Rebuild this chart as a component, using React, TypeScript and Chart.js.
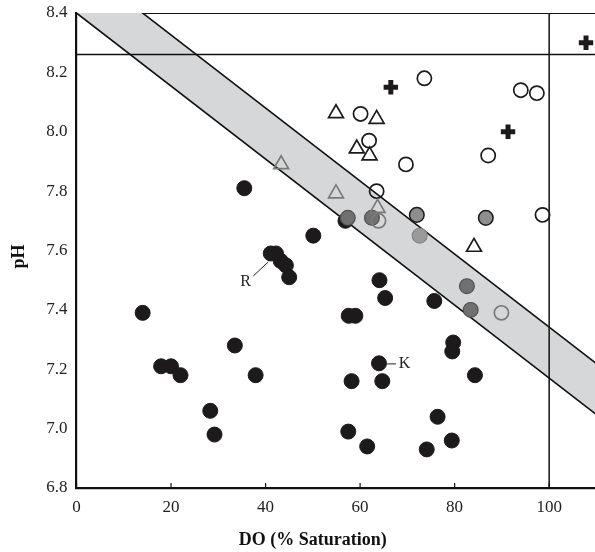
import React, { useEffect, useRef } from 'react';
import { Chart, registerables } from 'chart.js';
Chart.register(...registerables);

const FONT = '"Liberation Serif", "Times New Roman", serif';

const xTicks = [0, 20, 40, 60, 80, 100];
const yTicks = [6.8, 7.0, 7.2, 7.4, 7.6, 7.8, 8.0, 8.2, 8.4];

const blackFilled = [
  { x: 14.0, y: 7.39 }, { x: 17.9, y: 7.21 }, { x: 20.0, y: 7.21 }, { x: 22.0, y: 7.18 },
  { x: 28.3, y: 7.06 }, { x: 29.2, y: 6.98 }, { x: 33.5, y: 7.28 }, { x: 37.9, y: 7.18 },
  { x: 35.5, y: 7.81 }, { x: 41.1, y: 7.59 }, { x: 42.2, y: 7.59 }, { x: 43.2, y: 7.565 },
  { x: 44.3, y: 7.55 }, { x: 45.0, y: 7.51 }, { x: 50.1, y: 7.65 }, { x: 56.9, y: 7.70 },
  { x: 57.6, y: 7.38 }, { x: 59.0, y: 7.38 }, { x: 64.1, y: 7.50 }, { x: 65.3, y: 7.44 },
  { x: 75.7, y: 7.43 }, { x: 64.0, y: 7.22 }, { x: 58.2, y: 7.16 }, { x: 64.7, y: 7.16 },
  { x: 57.5, y: 6.99 }, { x: 61.5, y: 6.94 }, { x: 74.1, y: 6.93 }, { x: 76.4, y: 7.04 },
  { x: 79.4, y: 6.96 }, { x: 79.7, y: 7.29 }, { x: 79.5, y: 7.26 }, { x: 84.3, y: 7.18 },
];
const greyBlackBorder = [{ x: 72.0, y: 7.72 }, { x: 86.6, y: 7.71 }];
const greyDark = [{ x: 57.4, y: 7.71 }, { x: 62.5, y: 7.71 }, { x: 82.6, y: 7.48 }, { x: 83.4, y: 7.40 }];
const greyLight = [{ x: 72.6, y: 7.65 }];
const openBlack = [
  { x: 73.6, y: 8.18 }, { x: 94.0, y: 8.14 }, { x: 97.4, y: 8.13 }, { x: 60.1, y: 8.06 },
  { x: 61.9, y: 7.97 }, { x: 69.7, y: 7.89 }, { x: 87.1, y: 7.92 }, { x: 98.6, y: 7.72 },
  { x: 63.5, y: 7.80 },
];
const openGrey = [{ x: 63.9, y: 7.70 }, { x: 89.9, y: 7.39 }];
const triBlack = [
  { x: 54.9, y: 8.062 }, { x: 63.5, y: 8.043 }, { x: 59.3, y: 7.943 }, { x: 62.0, y: 7.92 },
  { x: 84.1, y: 7.612 },
];
const triGrey = [{ x: 54.9, y: 7.792 }, { x: 63.7, y: 7.743 }, { x: 43.3, y: 7.89 }];
const crosses = [{ x: 66.5, y: 8.15 }, { x: 91.3, y: 8.0 }, { x: 107.8, y: 8.30 }];

const bandLower = [{ x: 0, y: 8.4 }, { x: 110, y: 7.047 }];
const bandUpper = [{ x: 0, y: 8.572 }, { x: 110, y: 7.219 }];
const topLine = [{ x: 14, y: 8.4 }, { x: 110, y: 8.4 }];
const hLine = [{ x: 0, y: 8.26 }, { x: 110, y: 8.26 }];
const vLine = [{ x: 100, y: 6.8 }, { x: 100, y: 8.4 }];

const labelR = { text: 'R', tx: 35.8, ty: 7.495, from: { x: 37.4, y: 7.514 }, to: { x: 40.6, y: 7.562 } };
const labelK = { text: 'K', tx: 69.4, ty: 7.217, from: { x: 65.7, y: 7.218 }, to: { x: 67.6, y: 7.218 } };

const overlay = {
  id: 'overlay',
  afterDraw(chart: any) {
    const ctx = chart.ctx;
    const xs = chart.scales.x;
    const ys = chart.scales.y;
    const area = chart.chartArea;
    ctx.save();
    ctx.strokeStyle = '#111';
    ctx.lineWidth = 1.2;
    xTicks.forEach((t) => {
      const px = xs.getPixelForValue(t);
      ctx.beginPath();
      ctx.moveTo(px, area.bottom);
      ctx.lineTo(px, area.bottom - 5);
      ctx.stroke();
    });
    ctx.fillStyle = '#222';
    ctx.strokeStyle = '#222';
    ctx.lineWidth = 1;
    ctx.font = `16px ${FONT}`;
    ctx.textAlign = 'center';
    ctx.textBaseline = 'middle';
    [labelR, labelK].forEach((l) => {
      ctx.beginPath();
      ctx.moveTo(xs.getPixelForValue(l.from.x), ys.getPixelForValue(l.from.y));
      ctx.lineTo(xs.getPixelForValue(l.to.x), ys.getPixelForValue(l.to.y));
      ctx.stroke();
      ctx.fillText(l.text, xs.getPixelForValue(l.tx), ys.getPixelForValue(l.ty));
    });
    ctx.fillStyle = '#111';
    ctx.font = `bold 18px ${FONT}`;
    ctx.fillText('DO (% Saturation)', xs.getPixelForValue(50), 540);
    ctx.translate(19, (area.top + area.bottom) / 2 + 6);
    ctx.rotate(-Math.PI / 2);
    ctx.fillText('pH', 0, 0);
    ctx.restore();
  },
};

const circle = (data: any[], bg: string, border: string, bw: number, r: number, order: number) => ({
  data, backgroundColor: bg, borderColor: border, borderWidth: bw, pointRadius: r,
  pointHoverRadius: r, pointStyle: 'circle', order, showLine: false,
});

export default function App() {
  const ref = useRef<HTMLCanvasElement>(null);
  useEffect(() => {
    if (!ref.current) return;
    const lineDs = (data: any[], order: number, width: number, extra: any = {}) => ({
      data, showLine: true, pointRadius: 0, pointHoverRadius: 0, borderColor: '#111',
      borderWidth: width, backgroundColor: 'transparent', fill: false, order, ...extra,
    });
    const chart = new Chart(ref.current, {
      type: 'scatter',
      data: {
        datasets: [
          lineDs(bandLower, 20, 1.6),
          lineDs(bandUpper, 20, 1.6, { fill: '-1', backgroundColor: '#d6d7d9' }),
          lineDs(topLine, 19, 2),
          lineDs(hLine, 19, 1.5),
          lineDs(vLine, 19, 1.5),
          circle(blackFilled, '#1c1a1b', '#1c1a1b', 1, 7.5, 6),
          circle(greyDark, '#707070', '#505050', 1.2, 7.4, 5),
          circle(greyLight, '#9a9a9a', '#858585', 1.2, 7.4, 5),
          circle(greyBlackBorder, '#8e8e8e', '#1c1a1b', 1.5, 7.3, 5),
          circle(openBlack, 'transparent', '#1c1a1b', 1.7, 7.1, 4),
          circle(openGrey, 'transparent', '#7a7a7a', 1.7, 7.1, 4),
          {
            data: triBlack, pointStyle: 'triangle', pointRadius: 8.6, pointHoverRadius: 8.6,
            backgroundColor: 'transparent', borderColor: '#1c1a1b', borderWidth: 1.7, order: 3, showLine: false,
          },
          {
            data: triGrey, pointStyle: 'triangle', pointRadius: 8.6, pointHoverRadius: 8.6,
            backgroundColor: 'transparent', borderColor: '#7a7a7a', borderWidth: 1.7, order: 3, showLine: false,
          },
          {
            data: crosses, pointStyle: 'cross', pointRadius: 7.2, pointHoverRadius: 7.2,
            backgroundColor: '#1c1a1b', borderColor: '#1c1a1b', borderWidth: 5, order: 2, showLine: false,
          },
        ] as any,
      },
      options: {
        animation: false,
        responsive: true,
        maintainAspectRatio: false,
        layout: { autoPadding: false, padding: { top: 13, right: 0, left: 0, bottom: 0 } },
        plugins: { legend: { display: false }, tooltip: { enabled: false }, title: { display: false } },
        scales: {
          x: {
            type: 'linear', min: 0, max: 109.7,
            afterBuildTicks: (s: any) => { s.ticks = xTicks.map((v) => ({ value: v })); },
            afterFit: (s: any) => { s.height = 64; s.paddingLeft = 0; s.paddingRight = 0; },
            grid: { display: false, drawTicks: false },
            border: { display: true, color: '#111', width: 2.2 },
            ticks: { font: { family: FONT, size: 17 }, color: '#222', padding: 9, maxRotation: 0 },
          },
          y: {
            type: 'linear', min: 6.8, max: 8.4,
            afterBuildTicks: (s: any) => { s.ticks = yTicks.map((v) => ({ value: v })); },
            afterFit: (s: any) => { s.width = 76.5; s.paddingTop = 0; s.paddingBottom = 0; },
            grid: { display: false, drawTicks: false },
            border: { display: true, color: '#111', width: 2.2 },
            ticks: {
              font: { family: FONT, size: 17 }, color: '#222', padding: 9,
              callback: (v: any) => Number(v).toFixed(1),
            },
          },
        },
      } as any,
      plugins: [overlay],
    });
    return () => chart.destroy();
  }, []);
  return (
    <div style={{ position: 'fixed', left: 0, top: 0, width: 595, height: 552, background: '#fff' }}>
      <canvas ref={ref} />
    </div>
  );
}
